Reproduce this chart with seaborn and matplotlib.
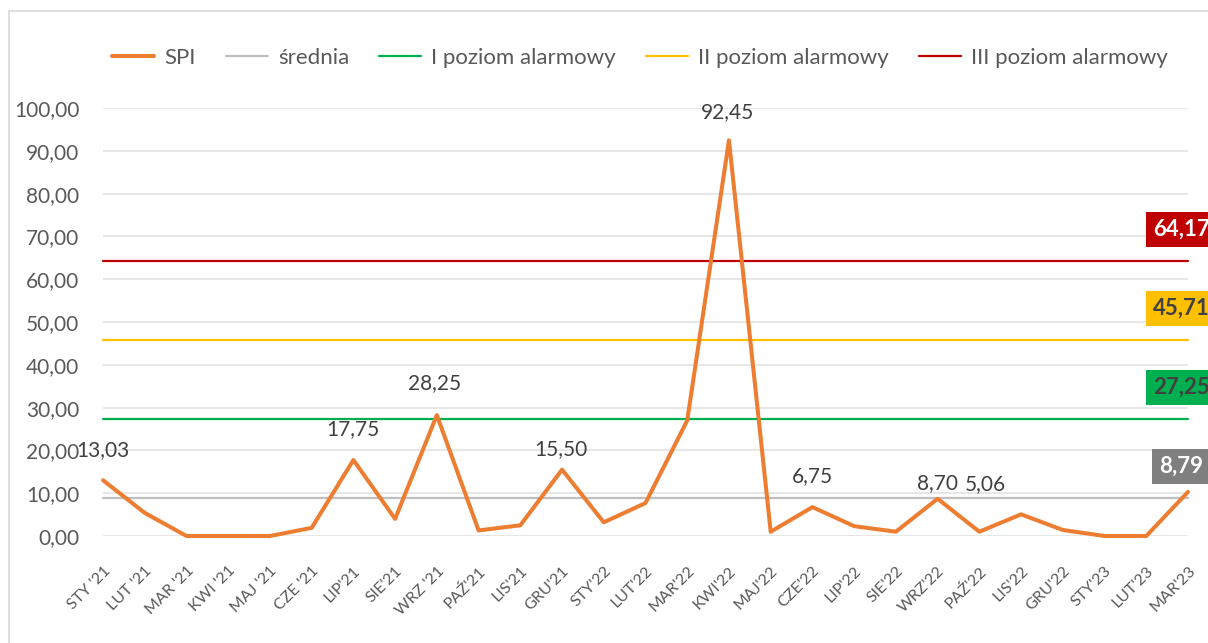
import numpy as np
import pandas as pd
import seaborn as sns
import matplotlib.pyplot as plt
from matplotlib.patches import Rectangle

# dane
miesiace = ["STY '21", "LUT '21", "MAR '21", "KWI '21", "MAJ '21", "CZE '21", "LIP'21", "SIE'21",
            "WRZ '21", "PAŹ'21", "LIS'21", "GRU'21", "STY'22", "LUT'22", "MAR'22", "KWI'22",
            "MAJ'22", "CZE'22", "LIP'22", "SIE'22", "WRZ'22", "PAŹ'22", "LIS'22", "GRU'22",
            "STY'23", "LUT'23", "MAR'23"]
spi = [13.03, 5.4, 0.0, 0.0, 0.0, 1.9, 17.75, 4.0, 28.25, 1.3, 2.5, 15.50, 3.2, 7.7, 27.0, 92.45,
       1.0, 6.75, 2.3, 1.0, 8.70, 1.0, 5.06, 1.4, 0.0, 0.0, 10.3]
srednia = 8.79
poziom_1 = 27.25
poziom_2 = 45.71
poziom_3 = 64.17

# etykiety danych (indeks punktu, tekst)
etykiety = [(0, "13,03"), (6, "17,75"), (8, "28,25"), (11, "15,50"), (15, "92,45"),
            (17, "6,75"), (20, "8,70"), (22, "5,06")]

sns.set_style("white")
plt.rcParams["font.family"] = ["Lato", "DejaVu Sans"]

tabela = pd.DataFrame({"x": np.arange(len(miesiace)), "SPI": spi})
tabela["średnia"] = srednia
tabela["I poziom alarmowy"] = poziom_1
tabela["II poziom alarmowy"] = poziom_2
tabela["III poziom alarmowy"] = poziom_3

kolory = {"SPI": "#ED7D31", "średnia": "#BFBFBF", "I poziom alarmowy": "#00B050",
          "II poziom alarmowy": "#FFC000", "III poziom alarmowy": "#C00000"}

fig = plt.figure(figsize=(12.08, 6.43), dpi=100)
ax = fig.add_axes([103 / 1208, 1 - 536 / 643, 1085 / 1208, 428 / 643])

# ramka wykresu
fig.patches.append(Rectangle((9 / 1208, -0.05), 1.1, 1 - 11 / 643 + 0.05, transform=fig.transFigure,
                             fill=False, edgecolor="#D9D9D9", linewidth=1.2))

for seria in ["średnia", "I poziom alarmowy", "II poziom alarmowy", "III poziom alarmowy", "SPI"]:
    sns.lineplot(data=tabela, x="x", y=seria, ax=ax, color=kolory[seria],
                 linewidth=2.9 if seria == "SPI" else 1.6, label=seria,
                 zorder=5 if seria == "SPI" else 3, clip_on=False)

ax.set_xlim(0, len(miesiace) - 1)
ax.set_ylim(0, 100)
ax.set_yticks(np.arange(0, 101, 10))
ax.set_yticklabels([f"{v:.2f}".replace(".", ",") for v in np.arange(0, 101, 10)],
                   fontsize=15, color="#595959")
ax.set_xticks(tabela["x"])
ax.set_xticklabels(miesiace, rotation=45, ha="right", va="top", rotation_mode="anchor",
                   fontsize=11.5, color="#595959")
ax.tick_params(axis="x", pad=20, length=0)
ax.tick_params(axis="y", pad=17, length=0)
ax.grid(axis="y", color="#E3E3E3", linewidth=1.2)
ax.set_axisbelow(True)
for s in ax.spines.values():
    s.set_visible(False)
ax.set_xlabel("")
ax.set_ylabel("")

# etykiety punktow
przesuniecia = {0: (0, 22), 6: (0, 22), 8: (-2, 23), 11: (-1, 14.5), 15: (-1, 20),
                17: (0, 22), 20: (0, 11.5), 22: (-26, 22)}
for i, t in etykiety:
    ax.annotate(t, (i, spi[i]), xytext=przesuniecia[i], textcoords="offset points",
                ha="center", va="center", fontsize=15, color="#404040")

# etykiety poziomow po prawej
for wartosc, kolor, kolor_tekstu in [(poziom_3, "#C00000", "white"), (poziom_2, "#FFC000", "#404040"),
                                     (poziom_1, "#00B050", "#404040"), (srednia, "#7F7F7F", "white")]:
    ax.annotate(f"{wartosc:.2f}".replace(".", ","), (1.0, wartosc), xycoords=("axes fraction", "data"),
                xytext=(-5, 23), textcoords="offset points", ha="center", va="center",
                fontsize=16, fontweight="bold", color=kolor_tekstu, annotation_clip=False,
                bbox=dict(boxstyle="square,pad=0.3", facecolor=kolor, edgecolor="none"))

ax.legend_.remove()
uchwyty, nazwy = ax.get_legend_handles_labels()
kolejnosc = ["SPI", "średnia", "I poziom alarmowy", "II poziom alarmowy", "III poziom alarmowy"]
uchwyty = [uchwyty[nazwy.index(n)] for n in kolejnosc]
fig.legend(uchwyty, kolejnosc, loc="center", bbox_to_anchor=(640 / 1208, 1 - 58 / 643), ncol=5,
           frameon=False, fontsize=16, labelcolor="#595959", handlelength=1.9, columnspacing=1.35,
           handletextpad=0.45)

plt.savefig("out.png", dpi=100)
